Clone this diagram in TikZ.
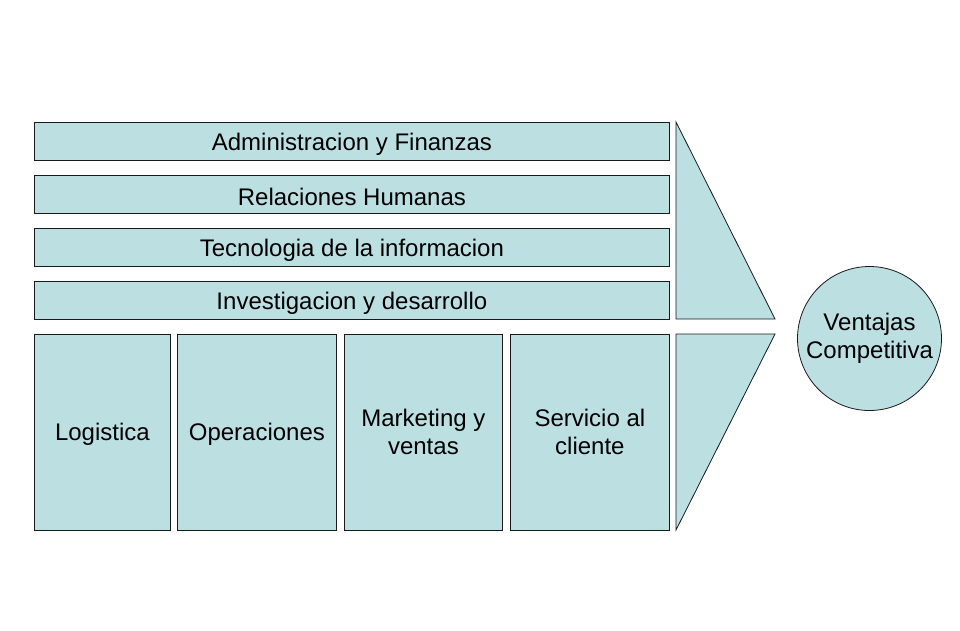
\documentclass[tikz,border=0pt]{standalone}
\usepackage{fontspec}
\setmainfont{Liberation Sans}
\usepackage{tikz}
\usetikzlibrary{positioning}
\definecolor{vcfill}{HTML}{BCDFE2}
\definecolor{vcline}{HTML}{1A1A1A}
\tikzset{
  supportBar/.style={draw=vcline, fill=vcfill, line width=0.8pt, anchor=north west, inner sep=0pt, minimum width=635pt, minimum height=38pt, font=\fontsize{24}{28}\selectfont, execute at begin node={\rule{0pt}{23pt}}},
  primaryBox/.style={draw=vcline, fill=vcfill, line width=0.8pt, anchor=north west, inner sep=0pt, minimum height=196pt, align=center, font=\fontsize{24}{28}\selectfont, execute at begin node={\rule{0pt}{21pt}}},
  marginTri/.style={draw=vcline, fill=vcfill, line width=0.8pt, line join=miter},
  goalCircle/.style={circle, draw=vcline, fill=vcfill, line width=0.8pt, inner sep=0pt, minimum size=144pt, align=center, font=\fontsize{24}{28}\selectfont, execute at begin node={\rule{0pt}{21pt}}}
}

\begin{document}
\begin{tikzpicture}[x=1pt,y=-1pt]
  \useasboundingbox (0,0) rectangle (960,630);
  % support activities
  \foreach \y/\name/\lab in {122/admin/Administracion y Finanzas,175/rrhh/Relaciones Humanas,228/tecno/Tecnologia de la informacion,281/invest/Investigacion y desarrollo}
    \node[supportBar] (\name) at (34,\y) {\lab};
  % primary activities
  \foreach \x/\w/\name/\lab in {34/136/logis/Logistica,177/159/oper/Operaciones,344/158/mkt/Marketing y\\ventas,510/159/serv/Servicio al\\cliente}
    \node[primaryBox, minimum width=\w pt] (\name) at (\x,334) {\lab};
  % margin
  \filldraw[marginTri] (676,122) -- (676,319) -- (775,319) -- cycle;
  \filldraw[marginTri] (676,334) -- (775,334) -- (676,530) -- cycle;
  \node[goalCircle] (ventaja) at (869.5,338.5) {Ventajas\\Competitiva};
\end{tikzpicture}
\end{document}
